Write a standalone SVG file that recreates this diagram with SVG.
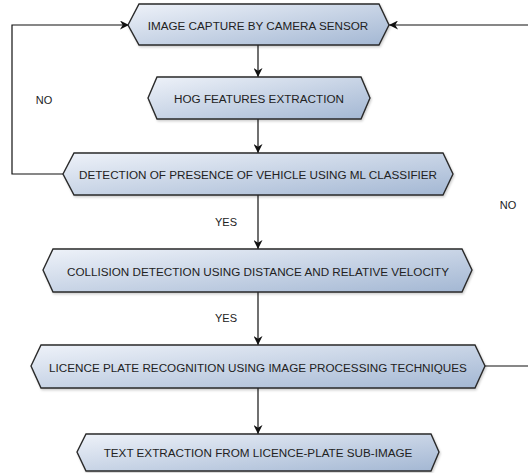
<svg xmlns="http://www.w3.org/2000/svg" width="528" height="473" viewBox="0 0 528 473">
<defs>
<linearGradient id="g" x1="0" y1="0" x2="1" y2="1">
<stop offset="0" stop-color="#eef2f9"/>
<stop offset="1" stop-color="#a3b7d3"/>
</linearGradient>
<marker id="ah" viewBox="0 0 10 10" refX="10" refY="5" markerWidth="9" markerHeight="9" markerUnits="userSpaceOnUse" orient="auto">
<path d="M0,0 L10,5 L0,10 L3,5 Z" fill="#111"/>
</marker>
<filter id="sh" x="-5%" y="-20%" width="110%" height="140%">
<feDropShadow dx="1" dy="1.5" stdDeviation="1" flood-color="#000" flood-opacity="0.2"/>
</filter>
</defs>
<style>
.n{fill:url(#g);stroke:#2a2a2a;stroke-width:1.4;filter:url(#sh)}
.t{font-family:"Liberation Sans",Arial,sans-serif;font-size:11.7px;fill:#222;text-anchor:middle;dominant-baseline:central}
.l{font-family:"Liberation Sans",Arial,sans-serif;font-size:11px;fill:#222;text-anchor:middle;dominant-baseline:central}
.c{fill:none;stroke:#111;stroke-width:1.2}
</style>
<rect width="528" height="473" fill="#fff"/>
<g id="connectors">
<path class="c" d="M258,45 V77" marker-end="url(#ah)"/>
<path class="c" d="M258,119 V153" marker-end="url(#ah)"/>
<path class="c" d="M258,195 V249" marker-end="url(#ah)"/>
<path class="c" d="M258,292 V345" marker-end="url(#ah)"/>
<path class="c" d="M258,388 V434" marker-end="url(#ah)"/>
<path class="c" d="M63,174 H12 V25 H129" marker-end="url(#ah)"/>
<path class="c" d="M485,366 H532 V25 H389" marker-end="url(#ah)"/>
<text class="l" x="44" y="100">NO</text>
<text class="l" x="508" y="205">NO</text>
<text class="l" x="226" y="222">YES</text>
<text class="l" x="226" y="318">YES</text>
</g>
<g id="n1">
<polygon class="n" points="128,25 139,4 379,4 389,25 379,45 139,45"/>
<text class="t" x="258" y="25">IMAGE CAPTURE BY CAMERA SENSOR</text>
</g>
<g id="n2">
<polygon class="n" points="148,98 157,77 361,77 370,98 361,119 157,119"/>
<text class="t" x="259" y="98">HOG FEATURES EXTRACTION</text>
</g>
<g id="n3">
<polygon class="n" points="63,174 74,153 443,153 453,174 443,195 74,195"/>
<text class="t" x="258" y="174">DETECTION OF PRESENCE OF VEHICLE USING ML CLASSIFIER</text>
</g>
<g id="n4">
<polygon class="n" points="43,270 53,249 462,249 472,270 462,292 53,292"/>
<text class="t" x="258" y="271">COLLISION DETECTION USING DISTANCE AND RELATIVE VELOCITY</text>
</g>
<g id="n5">
<polygon class="n" points="31,366 41,345 475,345 485,366 475,388 41,388"/>
<text class="t" x="258" y="367">LICENCE PLATE RECOGNITION USING IMAGE PROCESSING TECHNIQUES</text>
</g>
<g id="n6">
<polygon class="n" points="77,452 86,434 431,434 439,452 431,471 86,471"/>
<text class="t" x="258" y="452">TEXT EXTRACTION FROM LICENCE-PLATE SUB-IMAGE</text>
</g>
</svg>
